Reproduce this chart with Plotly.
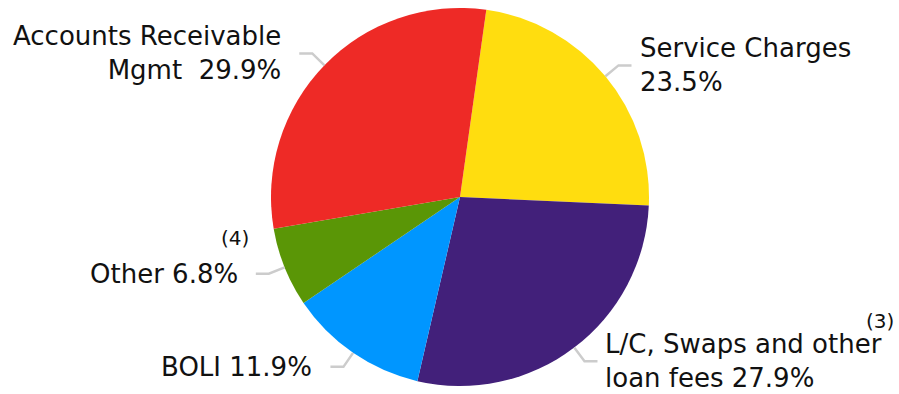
import math
import plotly.graph_objects as go

# Fee income mix, clockwise from the top
categories = ["Service Charges", "L/C, Swaps and other loan fees", "BOLI", "Other",
              "Accounts Receivable Mgmt"]
shares = [23.5, 27.9, 11.9, 6.8, 29.9]
label_text = ["Service Charges<br>{v}%", "L/C, Swaps and other<br>loan fees {v}%",
              "BOLI {v}%", "Other {v}%", "Accounts Receivable<br>Mgmt&nbsp; {v}%"]
footnotes = ["", "(3)", "", "(4)", ""]
colors = ["#FFDD0F", "#42207A", "#0096FF", "#5A9606", "#EE2A26"]

W, H = 899, 394
CX, CY, R = 460, 197, 189
ROTATION = 8
FONT = "DejaVu Sans"


def px(x):
    return x / W


def py(y):
    return 1 - y / H


fig = go.Figure(go.Pie(
    labels=categories,
    values=shares,
    sort=False,
    direction="clockwise",
    rotation=ROTATION,
    marker=dict(colors=colors, line=dict(width=0)),
    textinfo="none",
    hoverinfo="label+percent",
    showlegend=False,
    domain=dict(x=[px(CX - R), px(CX + R)], y=[py(CY + R), py(CY - R)]),
))

# Leader lines and labels placed from each slice's mid angle
footnote_pos = {1: (896, -40), 3: (251, -36)}
total = sum(shares)
start = ROTATION
shapes, annotations = [], []
for i, v in enumerate(shares):
    sweep = 360 * v / total
    mid = math.radians(start + sweep / 2)
    start += sweep
    sx, sy = math.sin(mid), -math.cos(mid)
    x0, y0 = CX + R * sx, CY + R * sy
    x1, y1 = CX + 1.09 * R * sx, CY + 1.09 * R * sy
    side = 1 if sx > 0 else -1
    x2 = x1 + side * 13
    shapes.append(dict(type="path", xref="paper", yref="paper",
                       path=f"M {px(x0)},{py(y0)} L {px(x1)},{py(y1)} L {px(x2)},{py(y1)}",
                       line=dict(color="#CCCCCC", width=2.5)))
    gap = 6 if side > 0 else 16
    tx = x2 + side * gap
    annotations.append(dict(
        xref="paper", yref="paper", x=px(tx), y=py(y1),
        text=label_text[i].format(v=v), showarrow=False,
        xanchor="left" if side > 0 else "right", yanchor="middle",
        align="left" if side > 0 else "right",
        font=dict(family=FONT, size=26, color="#111111"),
    ))
    if footnotes[i]:
        fx, dy = footnote_pos[i]
        annotations.append(dict(
            xref="paper", yref="paper", x=px(fx), y=py(y1 + dy),
            text=footnotes[i], showarrow=False,
            xanchor="right", yanchor="middle",
            font=dict(family=FONT, size=20, color="#111111"),
        ))

fig.update_layout(
    width=W, height=H,
    margin=dict(l=0, r=0, t=0, b=0),
    paper_bgcolor="white", plot_bgcolor="white",
    shapes=shapes, annotations=annotations,
)

fig.write_html("out.html")
